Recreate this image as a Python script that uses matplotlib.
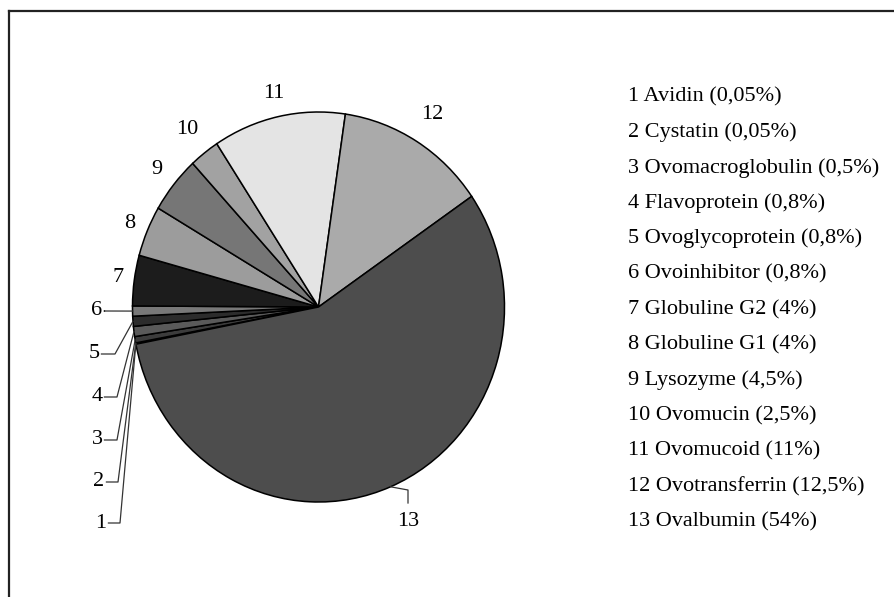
import matplotlib
matplotlib.use("Agg")
import matplotlib.pyplot as plt
import numpy as np

plt.rcParams['font.family'] = ['Liberation Serif', 'DejaVu Serif']

numbers = [str(i) for i in range(1, 14)]
names = ["Avidin", "Cystatin", "Ovomacroglobulin", "Flavoprotein", "Ovoglycoprotein",
         "Ovoinhibitor", "Globuline G2", "Globuline G1", "Lysozyme", "Ovomucin",
         "Ovomucoid", "Ovotransferrin", "Ovalbumin"]
shares = [0.05, 0.05, 0.5, 0.8, 0.8, 0.8, 4, 4, 4.5, 2.5, 11, 12.5, 54]
share_text = ["0,05", "0,05", "0,5", "0,8", "0,8", "0,8", "4", "4", "4,5", "2,5", "11", "12,5", "54"]
colors = ["#ffffff", "#e0e0e0", "#3c3c3c", "#5a5a5a", "#2c2c2c", "#787878", "#1c1c1c",
          "#9c9c9c", "#767676", "#a2a2a2", "#e4e4e4", "#aaaaaa", "#4d4d4d"]

W, H = 895, 597
CX, CY = 318.5, 307   # pie centre in pixels
SX, SY = 186, 195     # pie is slightly taller than wide


def px(x, y):
    # pixel (from top-left) -> data units (pie radius = 1)
    return (x - CX) / SX, (CY - y) / SY


fig = plt.figure(figsize=(W / 100, H / 100), dpi=100)
ax = fig.add_axes([0, 0, 1, 1])

wedges, _ = ax.pie(shares, colors=colors, startangle=191, counterclock=False,
                   radius=1, center=(0, 0), normalize=True, frame=True,
                   wedgeprops=dict(edgecolor='black', linewidth=1.1))
ax.set_aspect('auto')
ax.set_xlim(-CX / SX, (W - CX) / SX)
ax.set_ylim(-(H - CY) / SY, CY / SY)
ax.axis('off')

fs = 16
mids = [np.deg2rad((w.theta1 + w.theta2) / 2) for w in wedges]

# labels 7..12 placed just outside the pie
label_r = [1.09, 1.10, 1.12, 1.15, 1.12, 1.16]
for k, i in enumerate(range(6, 12)):
    a = mids[i]
    ax.text(label_r[k] * np.cos(a), label_r[k] * np.sin(a), numbers[i],
            ha='center', va='center', fontsize=fs)

# labels 1..6 with leader lines on the left
small_label_y = [523, 482, 440, 397, 354, 311]
small_label_x = [101, 99, 97, 97, 94, 97]
elbow_x = [120, 118, 117, 117, 115, 104]
for i in range(6):
    lx, ly = px(small_label_x[i], small_label_y[i])
    ex, _ = px(elbow_x[i], small_label_y[i])
    a = mids[i]
    tx, ty = np.cos(a), np.sin(a)
    ax.text(lx, ly, numbers[i], ha='center', va='center', fontsize=fs)
    ax.plot([lx + 0.04, ex, tx], [ly, ly, ty], color='#333333', lw=0.9)

# label 13 below
a = mids[12]
tx, ty = np.cos(a), np.sin(a)
bx, by = px(408, 490)
_, by2 = px(408, 503)
ax.plot([tx, bx, bx], [ty, by, by2], color='#333333', lw=0.9)
lx, ly = px(408, 522)
ax.text(lx, ly, numbers[12], ha='center', va='center', fontsize=fs)

# legend text
for i in range(13):
    lx, ly = px(628, 97 + i * 35.4)
    ax.text(lx, ly, f"{numbers[i]} {names[i]} ({share_text[i]}%)",
            ha='left', va='center', fontsize=fs)

# frame (top and left edges visible)
fig.add_artist(plt.Line2D([9 / W, 1], [1 - 11 / H, 1 - 11 / H], color='#222222', lw=1.6))
fig.add_artist(plt.Line2D([9 / W, 9 / W], [0, 1 - 11 / H], color='#222222', lw=1.6))

fig.savefig("out.png", dpi=100, facecolor='white')
